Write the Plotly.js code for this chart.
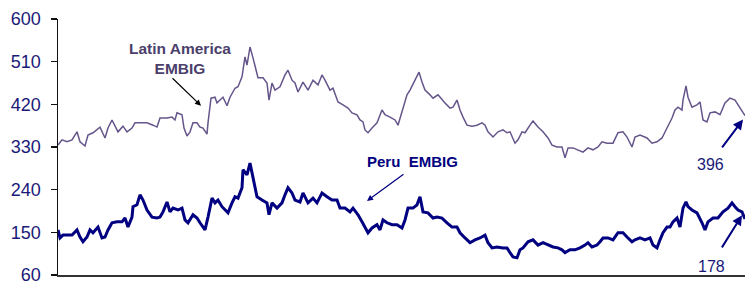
<!DOCTYPE html>
<html>
<head>
<meta charset="utf-8">
<script src="https://cdn.plot.ly/plotly-3.0.1.min.js"></script>
<style>
html,body{margin:0;padding:0;background:#fff;}
#chart{width:747px;height:282px;}
</style>
</head>
<body>
<div id="chart"></div>
<script>
// Observation index (time position along the horizontal axis)
const latamObs = [0,4,9,14,19,22,27,30,35,40,42,47,50,54,57,60,65,69,74,77,82,89,95,99,102,109,114,117,119,124,126,129,132,135,139,142,145,149,150,153,157,159,162,165,169,172,177,180,184,187,189,192,195,200,205,209,211,214,217,222,227,230,234,237,240,245,250,255,260,264,267,272,275,280,285,290,294,299,302,305,307,310,314,319,324,327,332,337,340,344,349,352,357,361,364,367,372,375,380,384,387,392,395,399,402,405,409,414,419,424,427,430,435,440,445,449,452,457,460,464,467,472,475,480,485,490,494,499,504,507,510,515,520,525,530,535,540,544,549,555,560,565,569,574,577,582,589,594,599,604,609,614,617,620,624,625,628,630,634,639,642,645,649,652,657,662,667,672,677,682,687];
const latamValues = [334,345,341,345,362,341,332,355,360,370,372,349,370,387,376,362,374,362,370,381,381,381,376,372,391,391,393,387,402,398,370,353,362,381,381,372,370,357,381,433,435,423,429,435,417,435,454,457,478,520,503,541,518,476,476,465,429,465,450,457,482,492,471,465,446,467,450,471,461,482,471,450,454,425,419,412,402,398,387,383,366,360,370,381,408,398,393,387,376,404,440,450,471,488,467,450,440,433,440,429,423,412,414,429,408,393,376,374,376,381,376,362,351,362,366,360,362,338,345,362,360,376,385,372,362,349,334,330,330,307,328,328,324,319,328,324,330,341,338,338,360,362,351,330,351,355,349,338,341,349,370,391,408,414,408,429,459,435,414,419,425,387,383,402,404,398,423,433,429,412,396];

const peruObs = [0,2,5,9,14,19,22,25,29,32,35,40,44,47,50,54,59,64,67,70,74,75,79,82,85,89,94,99,102,105,109,112,115,120,124,127,130,135,139,142,147,150,154,157,160,164,167,170,174,177,180,184,185,189,192,195,199,204,209,211,214,219,224,227,230,234,237,242,245,250,255,259,264,269,274,279,282,287,292,295,300,304,307,310,314,319,322,325,329,334,339,344,347,350,355,359,362,365,370,375,379,384,389,394,399,402,407,412,417,422,427,430,434,439,445,449,452,455,459,462,465,470,475,480,485,490,495,500,504,507,512,517,522,527,530,534,539,542,545,550,555,560,565,569,574,577,582,587,592,595,599,602,605,609,612,615,619,622,625,628,630,634,639,644,647,650,655,660,665,670,674,677,680,684,687];
const peruValues = [155,138,144,144,144,155,140,130,140,155,149,161,138,140,155,170,172,172,180,161,182,204,208,229,218,197,182,180,182,193,214,193,201,197,201,176,170,187,180,170,155,182,222,212,218,204,197,191,212,225,222,244,282,271,296,265,225,218,212,187,212,201,212,229,244,233,218,214,233,212,222,212,233,225,218,218,201,201,193,201,187,172,159,149,159,166,155,176,170,166,166,159,176,201,201,208,225,193,191,180,182,180,170,161,161,149,138,128,134,138,144,128,117,119,117,117,107,98,96,113,117,130,134,123,128,123,119,117,113,107,113,113,117,123,128,119,123,130,138,138,134,149,149,140,130,134,138,134,138,123,117,134,149,161,161,172,180,161,201,214,204,197,191,170,155,172,180,180,193,201,212,204,197,193,178];

const yTickVals = [60,150,240,330,420,510,600];
const yTickText = ['60','150','240','330','420','510','600'];

const seriesNames = ['Latin America EMBIG','Peru EMBIG'];
const lastLatam = latamValues[latamValues.length-1];
const lastPeru = peruValues[peruValues.length-1];

const traces = [
  {x: latamObs, y: latamValues, type:'scatter', mode:'lines', name: seriesNames[0],
   line:{color:'#65558a', width:1.5}, hoverinfo:'skip'},
  {x: peruObs, y: peruValues, type:'scatter', mode:'lines', name: seriesNames[1],
   line:{color:'#000080', width:3}, hoverinfo:'skip'}
];

const navy = '#1a1a78';
const layout = {
  width:747, height:282,
  margin:{l:58, r:2, t:19, b:7},
  paper_bgcolor:'#ffffff', plot_bgcolor:'#ffffff',
  showlegend:false,
  xaxis:{range:[0,687], showline:true, linecolor:'#333333', linewidth:2,
    showticklabels:false, ticks:'', showgrid:false, zeroline:false, fixedrange:true},
  yaxis:{range:[59.8,600.1], tickvals:yTickVals, ticktext:yTickText, showline:true,
    linecolor:'#111111', linewidth:1.5, ticks:'outside', ticklen:6, tickwidth:1.5,
    tickcolor:'#111111', showgrid:false, zeroline:false, ticklabelstandoff:6,
    automargin:false, ticklabeloverflow:'allow',
    tickfont:{family:'Liberation Sans, Arial, sans-serif', size:18, color:navy}},
  annotations:[
    {xref:'x', yref:'y', x:122, y:516, text:'<b>Latin America<br>EMBIG</b>', showarrow:false,
     font:{family:'Liberation Sans, Arial, sans-serif', size:15.5, color:'#4b3f6b'}},
    {xref:'x', yref:'y', axref:'x', ayref:'y', x:143, y:417, ax:113, ay:478, text:'',
     showarrow:true, arrowhead:2, arrowsize:1, arrowwidth:1.2, arrowcolor:'#000000'},
    {xref:'x', yref:'y', x:354, y:300, text:'<b>Peru\u00a0 EMBIG</b>', showarrow:false,
     font:{family:'Liberation Sans, Arial, sans-serif', size:15, color:'#000080'}},
    {xref:'x', yref:'y', axref:'x', ayref:'y', x:309, y:216, ax:347, ay:275, text:'',
     showarrow:true, arrowhead:2, arrowsize:1, arrowwidth:1.2, arrowcolor:'#000080'},
    {xref:'x', yref:'y', x:652, y:292, text:String(lastLatam), showarrow:false,
     font:{family:'Liberation Sans, Arial, sans-serif', size:16, color:navy}},
    {xref:'x', yref:'y', axref:'x', ayref:'y', x:685, y:388, ax:663, ay:326, text:'',
     showarrow:true, arrowhead:2, arrowsize:1, arrowwidth:2, arrowcolor:'#000080'},
    {xref:'x', yref:'y', x:653, y:77, text:String(lastPeru), showarrow:false,
     font:{family:'Liberation Sans, Arial, sans-serif', size:16, color:navy}},
    {xref:'x', yref:'y', axref:'x', ayref:'y', x:684, y:186, ax:663, ay:115, text:'',
     showarrow:true, arrowhead:2, arrowsize:1, arrowwidth:2, arrowcolor:'#000080'}
  ]
};

Plotly.newPlot('chart', traces, layout, {staticPlot:true, displayModeBar:false});
</script>
</body>
</html>
